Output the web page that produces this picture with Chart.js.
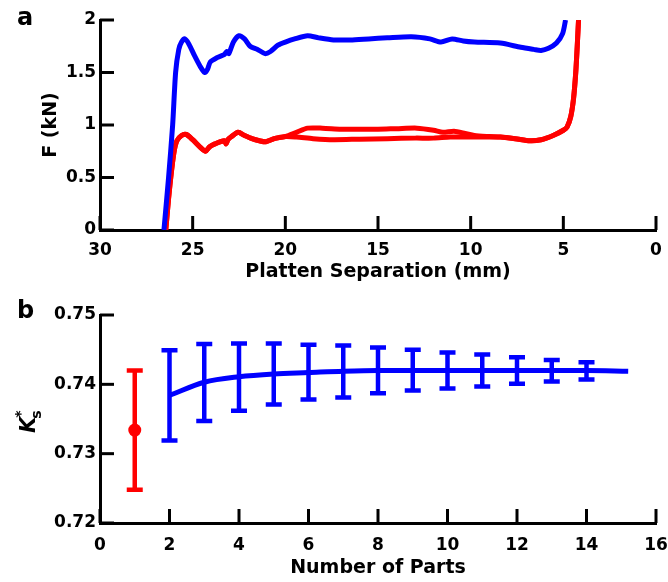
<!DOCTYPE html>
<html><head><meta charset="utf-8">
<script src="https://cdn.jsdelivr.net/npm/chart.js@4.4.1/dist/chart.umd.min.js"></script>
<style>
html,body{margin:0;padding:0;background:#fff;}
#wrap{position:relative;width:668px;height:582px;overflow:hidden;background:#fff;}
.panel{position:absolute;left:0;width:668px;height:291px;}
</style></head><body>
<div id="wrap">
<div class="panel" style="top:0"><canvas id="ca" width="668" height="291"></canvas></div>
<div class="panel" style="top:291px"><canvas id="cb" width="668" height="291"></canvas></div>
</div>
<script>
// ---------- Panel a data ----------
const blueSep = [26.55,26.3,26.08,25.92,25.75,25.6,25.42,25.2,24.9,24.6,24.35,24.2,24.05,23.7,23.3,23.15,23.05,22.8,22.5,22.2,21.9,21.5,21.1,20.8,20.4,20.0,19.5,18.8,18.2,17.4,16.5,15.5,14.5,13.2,12.2,11.6,11.0,10.4,9.8,8.4,7.3,6.6,6.2,5.8,5.37,5.04,4.88];
const blueF   = [0,0.5,1.0,1.5,1.72,1.79,1.82,1.77,1.66,1.56,1.50,1.53,1.60,1.64,1.67,1.70,1.68,1.79,1.85,1.82,1.75,1.72,1.68,1.70,1.76,1.79,1.82,1.85,1.83,1.81,1.81,1.82,1.83,1.84,1.82,1.79,1.82,1.80,1.79,1.78,1.74,1.72,1.71,1.73,1.78,1.87,2.0];
const redASep = [26.45,26.3,26.15,26.0,25.85,25.6,25.35,25.0,24.6,24.3,24.1,23.8,23.3,23.2,23.1,22.9,22.55,22.2,21.8,21.4,21.05,20.6,20.0,19.4,18.8,18.0,17.0,16.0,15.0,14.0,12.9,12.0,11.5,10.9,10.3,9.8,9.0,8.4,7.6,6.8,6.2,5.55,5.0,4.8,4.6,4.45,4.33,4.25,4.18];
const redAF   = [0,0.3,0.55,0.75,0.85,0.90,0.91,0.86,0.79,0.75,0.79,0.82,0.85,0.82,0.86,0.89,0.93,0.90,0.87,0.85,0.84,0.87,0.89,0.93,0.97,0.97,0.96,0.96,0.96,0.965,0.97,0.95,0.93,0.94,0.92,0.90,0.89,0.885,0.87,0.85,0.86,0.90,0.95,0.98,1.08,1.25,1.50,1.75,2.0];
const redBSep = [26.45,26.3,26.15,26.0,25.85,25.6,25.35,25.0,24.6,24.3,24.1,23.8,23.3,23.2,23.1,22.9,22.55,22.2,21.8,21.4,21.05,20.6,20.0,19.4,18.5,17.4,16.0,14.5,13.0,12.0,11.1,10.0,9.0,8.4,7.6,6.8,6.2,5.55,5.0,4.8,4.6,4.45,4.33,4.25,4.18];
const redBF   = [0,0.3,0.55,0.75,0.85,0.90,0.91,0.86,0.79,0.75,0.79,0.82,0.85,0.82,0.86,0.89,0.93,0.90,0.87,0.85,0.84,0.87,0.89,0.885,0.87,0.86,0.865,0.87,0.875,0.875,0.885,0.885,0.885,0.885,0.87,0.85,0.86,0.90,0.95,0.98,1.08,1.25,1.50,1.75,2.0];
const sepTicksStep = 5;
const forceTicksStep = 0.5;

// ---------- Panel b data ----------
const singleX    = [1];
const singleMean = [0.7334];
const singleHigh = [0.7420];
const singleLow  = [0.7248];
const partsX    = [2,3,4,5,6,7,8,9,10,11,12,13,14];
const partsHigh = [0.7449,0.7458,0.7459,0.7459,0.7457,0.7456,0.7453,0.7450,0.7446,0.7443,0.7439,0.7435,0.7432];
const partsLow  = [0.7319,0.7347,0.7362,0.7371,0.7378,0.7381,0.7387,0.7391,0.7394,0.7397,0.7401,0.7404,0.7407];
const lineX    = [2,3,4,5,6,7,8,9,10,11,12,13,14,15.2];
const lineMean = [0.7384,0.7403,0.7411,0.7415,0.7417,0.7419,0.7420,0.7420,0.7420,0.7420,0.7420,0.7420,0.7420,0.7419];

const BLUE = '#0000ff', RED = '#ff0000';
const FONT = "'DejaVu Sans', sans-serif";
Chart.defaults.font.family = FONT;
Chart.defaults.font.weight = 'bold';
Chart.defaults.color = '#000';

const pts = (xs, ys) => xs.map((x, i) => ({x, y: ys[i]}));
const fmt = v => String(+Number(v).toFixed(3));

const inwardTicks = {
  id: 'inwardTicks',
  beforeDatasetsDraw(chart) {
    const {ctx, chartArea} = chart;
    const xs = chart.scales.x, ys = chart.scales.y;
    ctx.save();
    ctx.strokeStyle = '#000'; ctx.lineWidth = 3; ctx.lineCap = 'butt';
    xs.ticks.forEach(t => {
      const px = xs.getPixelForValue(t.value);
      ctx.beginPath(); ctx.moveTo(px, chartArea.bottom); ctx.lineTo(px, chartArea.bottom - 14); ctx.stroke();
    });
    ys.ticks.forEach(t => {
      const py = ys.getPixelForValue(t.value);
      ctx.beginPath(); ctx.moveTo(chartArea.left, py); ctx.lineTo(chartArea.left + 14, py); ctx.stroke();
    });
    ctx.restore();
  }
};

const panelLabel = {
  id: 'panelLabel',
  afterDraw(chart, args, opts) {
    const ctx = chart.ctx;
    ctx.save();
    ctx.fillStyle = '#000';
    ctx.font = "bold 24px " + FONT;
    ctx.textBaseline = 'alphabetic';
    ctx.fillText(opts.text, opts.x, opts.y);
    ctx.restore();
  }
};

function axisCommon() {
  return {
    grid: {display: false, drawTicks: false},
    border: {display: true, color: '#000', width: 3},
  };
}

new Chart(document.getElementById('ca'), {
  type: 'line',
  data: {
    datasets: [
      {data: pts(blueSep, blueF), borderColor: BLUE, borderWidth: 5, pointRadius: 0, tension: 0.25, fill: false},
      {data: pts(redASep, redAF), borderColor: RED, borderWidth: 5, pointRadius: 0, tension: 0.25, fill: false},
      {data: pts(redBSep, redBF), borderColor: RED, borderWidth: 5, pointRadius: 0, tension: 0.25, fill: false}
    ]
  },
  options: {
    responsive: false, animation: false, devicePixelRatio: 1,
    layout: {padding: {top: 20, right: 12, left: 0, bottom: 0}},
    plugins: {legend: {display: false}, tooltip: {enabled: false},
      panelLabel: {text: 'a', x: 17, y: 25}},
    scales: {
      x: Object.assign(axisCommon(), {
        type: 'linear', reverse: true, min: 0, max: 30,
        afterFit(s) { s.height = 61; s.paddingLeft = 0; s.paddingRight = 0; },
        ticks: {stepSize: sepTicksStep, color: '#000', font: {size: 17, weight: 'bold'}, padding: 10, maxRotation: 0, autoSkip: false, callback: fmt},
        title: {display: true, text: 'Platten Separation (mm)', color: '#000', font: {size: 19, weight: 'bold'}, padding: {top: 0, bottom: 8}}
      }),
      y: Object.assign(axisCommon(), {
        type: 'linear', min: 0, max: 2,
        afterFit(s) { s.width = 100; s.paddingTop = 0; s.paddingBottom = 0; },
        ticks: {stepSize: forceTicksStep, color: '#000', font: {size: 17, weight: 'bold'}, padding: 4, callback: fmt},
        title: {display: true, text: 'F (kN)', color: '#000', font: {size: 19, weight: 'bold'}, padding: {top: 40, bottom: 0}}
      })
    }
  },
  plugins: [inwardTicks, panelLabel]
});

const errorBars = {
  id: 'errorBars',
  beforeDatasetsDraw(chart) {
    const {ctx} = chart;
    const xs = chart.scales.x, ys = chart.scales.y;
    const draw = (X, H, L, color) => {
      ctx.save();
      ctx.strokeStyle = color; ctx.lineWidth = 4.5; ctx.lineCap = 'butt';
      X.forEach((x, i) => {
        const px = xs.getPixelForValue(x);
        const ph = ys.getPixelForValue(H[i]);
        const pl = ys.getPixelForValue(L[i]);
        ctx.beginPath();
        ctx.moveTo(px, ph); ctx.lineTo(px, pl);
        ctx.moveTo(px - 8, ph); ctx.lineTo(px + 8, ph);
        ctx.moveTo(px - 8, pl); ctx.lineTo(px + 8, pl);
        ctx.stroke();
      });
      ctx.restore();
    };
    draw(singleX, singleHigh, singleLow, RED);
    draw(partsX, partsHigh, partsLow, BLUE);
  }
};

const kLabel = {
  id: 'kLabel',
  afterDraw(chart) {
    const ctx = chart.ctx;
    const ys = chart.scales.y;
    const cy = (ys.top + ys.bottom) / 2;
    ctx.save();
    ctx.fillStyle = '#000';
    ctx.translate(35, cy + 14);
    ctx.rotate(-Math.PI / 2);
    ctx.textBaseline = 'alphabetic';
    ctx.font = "italic bold 21px " + FONT;
    ctx.fillText('K', 0, 0);
    const kw = ctx.measureText('K').width;
    ctx.font = "bold 14px " + FONT;
    ctx.fillText('*', kw - 1, -10);
    ctx.fillText('s', kw - 2, 6);
    ctx.restore();
  }
};

new Chart(document.getElementById('cb'), {
  type: 'line',
  data: {
    datasets: [
      {type: 'scatter', data: pts(singleX, singleMean), pointRadius: 6.5, pointBackgroundColor: RED, pointBorderColor: RED, borderWidth: 0, showLine: false},
      {data: pts(lineX, lineMean), borderColor: BLUE, borderWidth: 5, pointRadius: 0, cubicInterpolationMode: 'monotone', fill: false}
    ]
  },
  options: {
    responsive: false, animation: false, devicePixelRatio: 1,
    layout: {padding: {top: 24, right: 12, left: 0, bottom: 0}},
    plugins: {legend: {display: false}, tooltip: {enabled: false},
      panelLabel: {text: 'b', x: 17, y: 27}},
    scales: {
      x: Object.assign(axisCommon(), {
        type: 'linear', min: 0, max: 16,
        afterFit(s) { s.height = 59; s.paddingLeft = 0; s.paddingRight = 0; },
        ticks: {stepSize: 2, color: '#000', font: {size: 17, weight: 'bold'}, padding: 12, maxRotation: 0, autoSkip: false, callback: fmt},
        title: {display: true, text: 'Number of Parts', color: '#000', font: {size: 19, weight: 'bold'}, padding: {top: 0, bottom: 3}}
      }),
      y: Object.assign(axisCommon(), {
        type: 'linear', min: 0.72, max: 0.75,
        afterFit(s) { s.width = 100; s.paddingTop = 0; s.paddingBottom = 0; },
        ticks: {stepSize: 0.01, color: '#000', font: {size: 17, weight: 'bold'}, padding: 4, callback: fmt},
        title: {display: false}
      })
    }
  },
  plugins: [inwardTicks, errorBars, kLabel, panelLabel]
});
</script>
</body></html>
